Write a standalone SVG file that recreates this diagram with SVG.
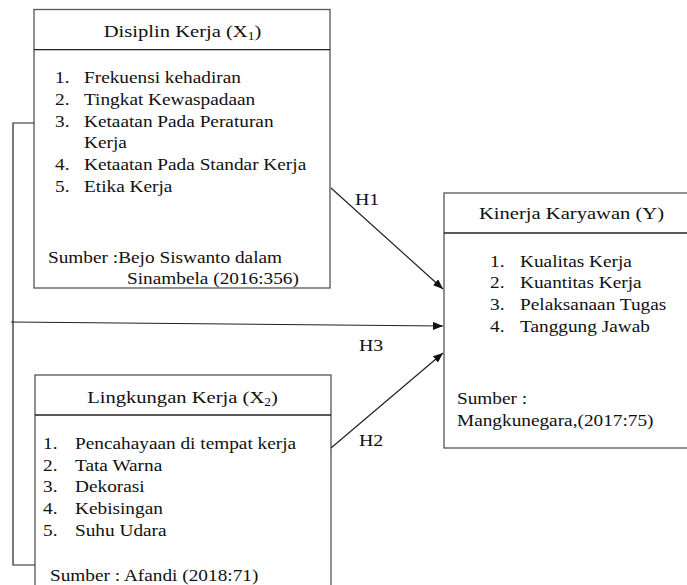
<svg xmlns="http://www.w3.org/2000/svg" width="687" height="585" viewBox="0 0 687 585">
<style>
.bg{fill:#ffffff}
.box{fill:#ffffff;stroke:#555555;stroke-width:1.3}
.hdr{stroke:#222222;stroke-width:1.3}
.con{fill:none;stroke:#222222;stroke-width:1.2}
text{font-family:"Liberation Serif","Times New Roman",serif;font-size:16.5px;fill:#111111}
.title{font-size:17.6px}
.mid{text-anchor:middle}
.lab{font-size:17px}
</style>
<defs>
<marker id="arr" viewBox="0 0 10 8" refX="10" refY="4" markerWidth="10" markerHeight="8" markerUnits="userSpaceOnUse" orient="auto">
<path d="M0,0 L10,4 L0,8 z" fill="#111111"/>
</marker>
</defs>
<rect class="bg" x="0" y="0" width="687" height="585"/>

<g id="box-x1">
<rect class="box" x="34" y="9.5" width="296" height="278.5"/>
<line class="hdr" x1="34" y1="49.7" x2="330" y2="49.7"/>
<text class="title mid" transform="translate(182.5,37) scale(1.17 1)">Disiplin Kerja (X<tspan font-size="11.5" dy="3">1</tspan><tspan dy="-3">)</tspan></text>
<text transform="translate(55,83) scale(1.17 1)">1.</text>
<text transform="translate(84,83) scale(1.17 1)">Frekuensi kehadiran</text>
<text transform="translate(55,104.8) scale(1.17 1)">2.</text>
<text transform="translate(84,104.8) scale(1.17 1)">Tingkat Kewaspadaan</text>
<text transform="translate(55,126.6) scale(1.17 1)">3.</text>
<text transform="translate(84,126.6) scale(1.17 1)">Ketaatan Pada Peraturan</text>
<text transform="translate(84,148.4) scale(1.17 1)">Kerja</text>
<text transform="translate(55,170.2) scale(1.17 1)">4.</text>
<text transform="translate(84,170.2) scale(1.17 1)">Ketaatan Pada Standar Kerja</text>
<text transform="translate(55,192) scale(1.17 1)">5.</text>
<text transform="translate(84,192) scale(1.17 1)">Etika Kerja</text>
<text transform="translate(48,263) scale(1.17 1)">Sumber :Bejo Siswanto dalam</text>
<text transform="translate(127,283.5) scale(1.17 1)">Sinambela (2016:356)</text>
</g>

<g id="box-y">
<rect class="box" x="444" y="193" width="260" height="255"/>
<line class="hdr" x1="444" y1="233" x2="687" y2="233"/>
<text class="title mid" transform="translate(571.5,219) scale(1.17 1)">Kinerja Karyawan (Y)</text>
<text transform="translate(490,266.5) scale(1.17 1)">1.</text>
<text transform="translate(520,266.5) scale(1.17 1)">Kualitas Kerja</text>
<text transform="translate(490,288.2) scale(1.17 1)">2.</text>
<text transform="translate(520,288.2) scale(1.17 1)">Kuantitas Kerja</text>
<text transform="translate(490,309.9) scale(1.17 1)">3.</text>
<text transform="translate(520,309.9) scale(1.17 1)">Pelaksanaan Tugas</text>
<text transform="translate(490,331.6) scale(1.17 1)">4.</text>
<text transform="translate(520,331.6) scale(1.17 1)">Tanggung Jawab</text>
<text transform="translate(457,404) scale(1.17 1)">Sumber :</text>
<text transform="translate(457,426) scale(1.17 1)">Mangkunegara,(2017:75)</text>
</g>

<g id="box-x2">
<rect class="box" x="35" y="375" width="296" height="225"/>
<line class="hdr" x1="35" y1="415" x2="331" y2="415"/>
<text class="title mid" transform="translate(182.5,402.5) scale(1.17 1)">Lingkungan Kerja (X<tspan font-size="11.5" dy="3">2</tspan><tspan dy="-3">)</tspan></text>
<text transform="translate(43,449) scale(1.17 1)">1.</text>
<text transform="translate(75,449) scale(1.17 1)">Pencahayaan di tempat kerja</text>
<text transform="translate(43,470.7) scale(1.17 1)">2.</text>
<text transform="translate(75,470.7) scale(1.17 1)">Tata Warna</text>
<text transform="translate(43,492.4) scale(1.17 1)">3.</text>
<text transform="translate(75,492.4) scale(1.17 1)">Dekorasi</text>
<text transform="translate(43,514.1) scale(1.17 1)">4.</text>
<text transform="translate(75,514.1) scale(1.17 1)">Kebisingan</text>
<text transform="translate(43,535.8) scale(1.17 1)">5.</text>
<text transform="translate(75,535.8) scale(1.17 1)">Suhu Udara</text>
<text transform="translate(50,581) scale(1.17 1)">Sumber : Afandi (2018:71)</text>
</g>

<g id="connectors">
<polyline class="con" points="34,123 13,123 13,565 35,565"/>
<line class="con" x1="331" y1="188" x2="443" y2="289" marker-end="url(#arr)"/>
<line class="con" x1="11" y1="322" x2="443" y2="326" marker-end="url(#arr)"/>
<line class="con" x1="331" y1="448" x2="443" y2="353" marker-end="url(#arr)"/>
<text class="lab" transform="translate(355,205) scale(1.17 1)">H1</text>
<text class="lab" transform="translate(359,350.5) scale(1.17 1)">H3</text>
<text class="lab" transform="translate(359,445.5) scale(1.17 1)">H2</text>
</g>
</svg>
